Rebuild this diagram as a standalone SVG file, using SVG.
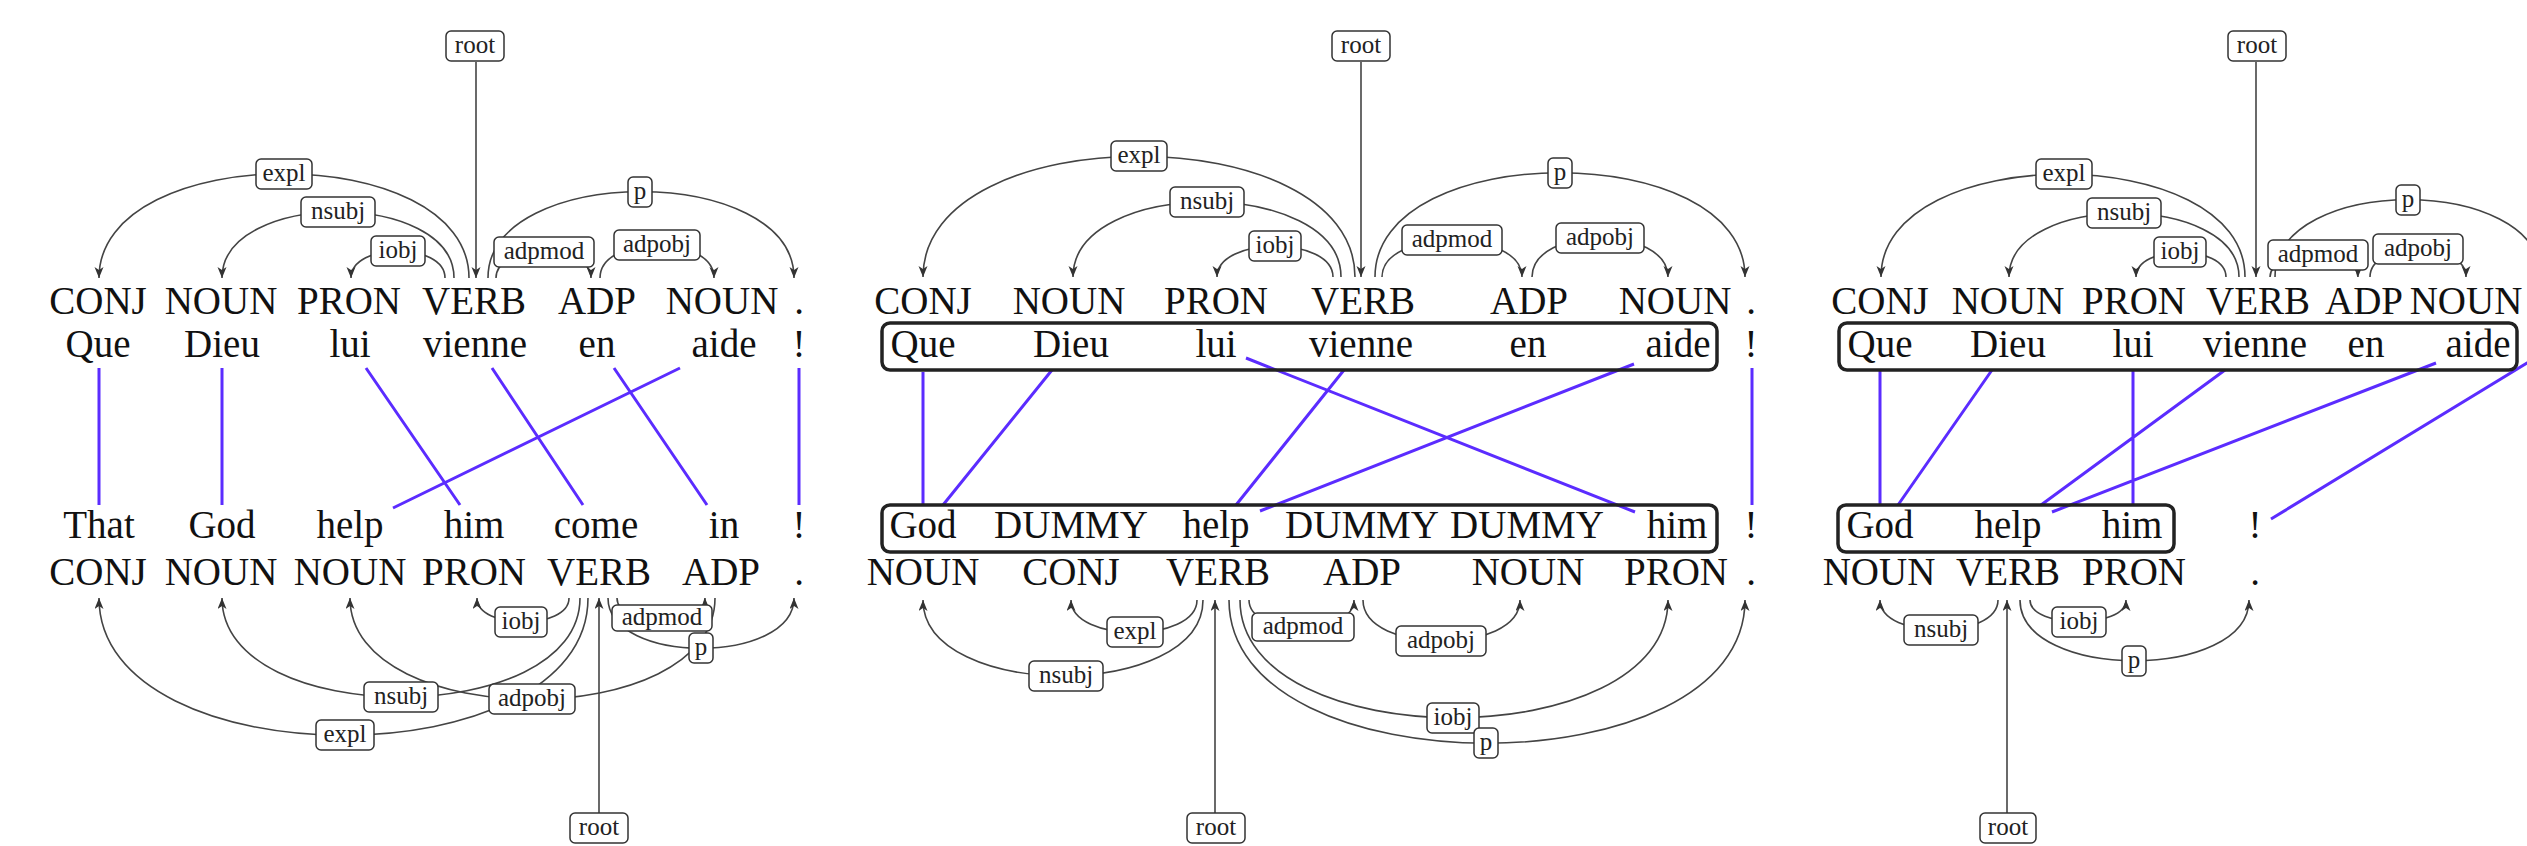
<svg xmlns="http://www.w3.org/2000/svg" width="2527" height="846" viewBox="0 0 2527 846">
<style>
.tok{font-family:"Liberation Serif","DejaVu Serif",serif;font-size:39px;text-anchor:middle;fill:#111}
.lbl rect{fill:#fff;stroke:#333;stroke-width:1.5}
.lbl text{font-family:"Liberation Serif","DejaVu Serif",serif;font-size:25px;text-anchor:middle;fill:#222}
.arc{fill:none;stroke:#444;stroke-width:1.6;marker-end:url(#ah)}
.al{stroke:#5b2cff;stroke-width:3;fill:none}
.sbox{fill:none;stroke:#222;stroke-width:3.5}
</style>
<defs>
<marker id="ah" markerUnits="userSpaceOnUse" markerWidth="12" markerHeight="10" refX="11" refY="4.5" orient="auto">
<path d="M0,0 L11,4.5 L0,9 L3,4.5 z" fill="#333"/>
</marker>
</defs>
<rect width="2527" height="846" fill="#fff"/>

<g id="connectors">
<!-- panel 1 top -->
<path class="arc" d="M469,278 C469,139 99,139 99,278"/>
<path class="arc" d="M454,278 C454,190 222,190 222,278"/>
<path class="arc" d="M445,278 C445,242 351,242 351,278"/>
<path class="arc" d="M496,278 C496,243 591,243 591,278"/>
<path class="arc" d="M600,278 C600,234 714,234 714,278"/>
<path class="arc" d="M488,278 C488,163 794,163 794,278"/>
<path class="arc" d="M476,62 L476,278"/>
<!-- panel 1 bottom -->
<path class="arc" d="M569,598 C569,630 477,630 477,598"/>
<path class="arc" d="M580,598 C580,730 222,730 222,598"/>
<path class="arc" d="M588,598 C588,781 99,781 99,598"/>
<path class="arc" d="M715,598 C715,733 350,733 350,598"/>
<path class="arc" d="M617,598 C617,628 705,628 705,598"/>
<path class="arc" d="M608,598 C608,665 794,665 794,598"/>
<path class="arc" d="M599,813 L599,598"/>
<!-- panel 2 top -->
<path class="arc" d="M1355,277 C1355,116 923,116 923,277"/>
<path class="arc" d="M1341,277 C1341,177 1073,177 1073,277"/>
<path class="arc" d="M1333,277 C1333,236 1217,236 1217,277"/>
<path class="arc" d="M1382,277 C1382,228 1522,228 1522,277"/>
<path class="arc" d="M1532,277 C1532,225 1668,225 1668,277"/>
<path class="arc" d="M1375,277 C1375,138 1745,138 1745,277"/>
<path class="arc" d="M1361,62 L1361,277"/>
<!-- panel 2 bottom -->
<path class="arc" d="M1197,600 C1197,643 1071,643 1071,600"/>
<path class="arc" d="M1203,600 C1203,701 923,701 923,600"/>
<path class="arc" d="M1249,600 C1249,637 1354,637 1354,600"/>
<path class="arc" d="M1363,600 C1363,655 1520,655 1520,600"/>
<path class="arc" d="M1240,600 C1240,757 1668,757 1668,600"/>
<path class="arc" d="M1229,600 C1229,791 1745,791 1745,600"/>
<path class="arc" d="M1215,813 L1215,600"/>
<!-- panel 3 top -->
<path class="arc" d="M2245,277 C2245,140 1881,140 1881,277"/>
<path class="arc" d="M2239,277 C2239,192 2009,192 2009,277"/>
<path class="arc" d="M2226,277 C2226,244 2136,244 2136,277"/>
<path class="arc" d="M2270,277 C2270,248 2358,248 2358,277"/>
<path class="arc" d="M2370,277 C2370,240 2466,240 2466,277"/>
<path class="arc" d="M2275,277 C2275,174 2541,174 2541,277"/>
<path class="arc" d="M2256,62 L2256,277"/>
<!-- panel 3 bottom -->
<path class="arc" d="M1998,600 C1998,640 1880,640 1880,600"/>
<path class="arc" d="M2030,600 C2030,629 2126,629 2126,600"/>
<path class="arc" d="M2020,600 C2020,681 2249,681 2249,600"/>
<path class="arc" d="M2007,813 L2007,600"/>
<!-- alignments -->
<path class="al" d="M99,368 L99,505 M222,368 L222,505 M366,368 L460,505 M492,368 L583,505 M614,368 L707,505 M680,368 L393,508 M799,368 L799,505"/>
<path class="al" d="M923,372 L923,505 M1052,370 L943,505 M1246,358 L1635,512 M1344,370 L1236,505 M1634,364 L1260,511 M1752,368 L1752,505"/>
<path class="al" d="M1880,370 L1880,505 M1992,370 L1898,505 M2133,370 L2133,505 M2225,370 L2041,505 M2436,363 L2052,512 M2540,355 L2271,519"/>
</g>

<g id="sentence-boxes">
<rect id="p2-fr-box" class="sbox" x="882" y="323" width="835" height="47" rx="8"/>
<rect id="p2-en-box" class="sbox" x="882" y="505" width="835" height="47" rx="8"/>
<rect id="p3-fr-box" class="sbox" x="1839" y="323" width="678" height="47" rx="8"/>
<rect id="p3-en-box" class="sbox" x="1838" y="505" width="336" height="47" rx="8"/>
</g>

<!-- panel 1 tokens -->
<g id="p1-fr-1" class="tok"><text x="98" y="314">CONJ</text><text x="98" y="357">Que</text></g>
<g id="p1-fr-2" class="tok"><text x="221" y="314">NOUN</text><text x="222" y="357">Dieu</text></g>
<g id="p1-fr-3" class="tok"><text x="349" y="314">PRON</text><text x="350" y="357">lui</text></g>
<g id="p1-fr-4" class="tok"><text x="474" y="314">VERB</text><text x="475" y="357">vienne</text></g>
<g id="p1-fr-5" class="tok"><text x="597" y="314">ADP</text><text x="597" y="357">en</text></g>
<g id="p1-fr-6" class="tok"><text x="722" y="314">NOUN</text><text x="724" y="357">aide</text></g>
<g id="p1-fr-7" class="tok"><text x="799" y="314">.</text><text x="799" y="357">!</text></g>
<g id="p1-en-1" class="tok"><text x="99" y="538">That</text><text x="98" y="585">CONJ</text></g>
<g id="p1-en-2" class="tok"><text x="222" y="538">God</text><text x="221" y="585">NOUN</text></g>
<g id="p1-en-3" class="tok"><text x="350" y="538">help</text><text x="350" y="585">NOUN</text></g>
<g id="p1-en-4" class="tok"><text x="474" y="538">him</text><text x="474" y="585">PRON</text></g>
<g id="p1-en-5" class="tok"><text x="596" y="538">come</text><text x="599" y="585">VERB</text></g>
<g id="p1-en-6" class="tok"><text x="724" y="538">in</text><text x="721" y="585">ADP</text></g>
<g id="p1-en-7" class="tok"><text x="799" y="538">!</text><text x="799" y="585">.</text></g>

<!-- panel 2 tokens -->
<g id="p2-fr-1" class="tok"><text x="923" y="314">CONJ</text><text x="923" y="357">Que</text></g>
<g id="p2-fr-2" class="tok"><text x="1069" y="314">NOUN</text><text x="1071" y="357">Dieu</text></g>
<g id="p2-fr-3" class="tok"><text x="1216" y="314">PRON</text><text x="1216" y="357">lui</text></g>
<g id="p2-fr-4" class="tok"><text x="1363" y="314">VERB</text><text x="1361" y="357">vienne</text></g>
<g id="p2-fr-5" class="tok"><text x="1529" y="314">ADP</text><text x="1528" y="357">en</text></g>
<g id="p2-fr-6" class="tok"><text x="1675" y="314">NOUN</text><text x="1678" y="357">aide</text></g>
<g id="p2-fr-7" class="tok"><text x="1751" y="314">.</text><text x="1751" y="357">!</text></g>
<g id="p2-en-1" class="tok"><text x="923" y="538">God</text><text x="923" y="585">NOUN</text></g>
<g id="p2-en-2" class="tok"><text x="1071" y="538">DUMMY</text><text x="1071" y="585">CONJ</text></g>
<g id="p2-en-3" class="tok"><text x="1216" y="538">help</text><text x="1218" y="585">VERB</text></g>
<g id="p2-en-4" class="tok"><text x="1362" y="538">DUMMY</text><text x="1362" y="585">ADP</text></g>
<g id="p2-en-5" class="tok"><text x="1527" y="538">DUMMY</text><text x="1528" y="585">NOUN</text></g>
<g id="p2-en-6" class="tok"><text x="1677" y="538">him</text><text x="1676" y="585">PRON</text></g>
<g id="p2-en-7" class="tok"><text x="1751" y="538">!</text><text x="1751" y="585">.</text></g>

<!-- panel 3 tokens -->
<g id="p3-fr-1" class="tok"><text x="1880" y="314">CONJ</text><text x="1880" y="357">Que</text></g>
<g id="p3-fr-2" class="tok"><text x="2008" y="314">NOUN</text><text x="2008" y="357">Dieu</text></g>
<g id="p3-fr-3" class="tok"><text x="2134" y="314">PRON</text><text x="2133" y="357">lui</text></g>
<g id="p3-fr-4" class="tok"><text x="2258" y="314">VERB</text><text x="2255" y="357">vienne</text></g>
<g id="p3-fr-5" class="tok"><text x="2364" y="314">ADP</text><text x="2366" y="357">en</text></g>
<g id="p3-fr-6" class="tok"><text x="2466" y="314">NOUN</text><text x="2478" y="357">aide</text></g>
<g id="p3-en-1" class="tok"><text x="1880" y="538">God</text><text x="1879" y="585">NOUN</text></g>
<g id="p3-en-2" class="tok"><text x="2008" y="538">help</text><text x="2008" y="585">VERB</text></g>
<g id="p3-en-3" class="tok"><text x="2132" y="538">him</text><text x="2134" y="585">PRON</text></g>
<g id="p3-en-4" class="tok"><text x="2255" y="538">!</text><text x="2255" y="585">.</text></g>

<!-- edge labels panel 1 -->
<g id="p1t-root" class="lbl" transform="translate(475,46)"><rect x="-29" y="-15" width="58" height="30" rx="5"/><text y="7">root</text></g>
<g id="p1t-expl" class="lbl" transform="translate(284,174)"><rect x="-28" y="-15" width="56" height="30" rx="5"/><text y="7">expl</text></g>
<g id="p1t-nsubj" class="lbl" transform="translate(338,212)"><rect x="-37" y="-15" width="74" height="30" rx="5"/><text y="7">nsubj</text></g>
<g id="p1t-iobj" class="lbl" transform="translate(398,251)"><rect x="-27" y="-15" width="54" height="30" rx="5"/><text y="7">iobj</text></g>
<g id="p1t-adpmod" class="lbl" transform="translate(544,252)"><rect x="-50" y="-15" width="100" height="30" rx="5"/><text y="7">adpmod</text></g>
<g id="p1t-adpobj" class="lbl" transform="translate(657,245)"><rect x="-43" y="-15" width="86" height="30" rx="5"/><text y="7">adpobj</text></g>
<g id="p1t-p" class="lbl" transform="translate(640,192)"><rect x="-12" y="-15" width="24" height="30" rx="5"/><text y="7">p</text></g>
<g id="p1b-root" class="lbl" transform="translate(599,828)"><rect x="-29" y="-15" width="58" height="30" rx="5"/><text y="7">root</text></g>
<g id="p1b-iobj" class="lbl" transform="translate(521,622)"><rect x="-26" y="-15" width="52" height="30" rx="5"/><text y="7">iobj</text></g>
<g id="p1b-nsubj" class="lbl" transform="translate(401,697)"><rect x="-37" y="-15" width="74" height="30" rx="5"/><text y="7">nsubj</text></g>
<g id="p1b-adpobj" class="lbl" transform="translate(532,699)"><rect x="-43" y="-15" width="86" height="30" rx="5"/><text y="7">adpobj</text></g>
<g id="p1b-expl" class="lbl" transform="translate(345,735)"><rect x="-29" y="-15" width="58" height="30" rx="5"/><text y="7">expl</text></g>
<g id="p1b-adpmod" class="lbl" transform="translate(662,618)"><rect x="-50" y="-13" width="100" height="26" rx="5"/><text y="7">adpmod</text></g>
<g id="p1b-p" class="lbl" transform="translate(701,648)"><rect x="-12" y="-15" width="24" height="30" rx="5"/><text y="7">p</text></g>

<!-- edge labels panel 2 -->
<g id="p2t-root" class="lbl" transform="translate(1361,46)"><rect x="-29" y="-15" width="58" height="30" rx="5"/><text y="7">root</text></g>
<g id="p2t-expl" class="lbl" transform="translate(1139,156)"><rect x="-28" y="-15" width="56" height="30" rx="5"/><text y="7">expl</text></g>
<g id="p2t-nsubj" class="lbl" transform="translate(1207,202)"><rect x="-37" y="-15" width="74" height="30" rx="5"/><text y="7">nsubj</text></g>
<g id="p2t-iobj" class="lbl" transform="translate(1275,246)"><rect x="-26" y="-15" width="52" height="30" rx="5"/><text y="7">iobj</text></g>
<g id="p2t-adpmod" class="lbl" transform="translate(1452,240)"><rect x="-50" y="-15" width="100" height="30" rx="5"/><text y="7">adpmod</text></g>
<g id="p2t-adpobj" class="lbl" transform="translate(1600,238)"><rect x="-44" y="-15" width="88" height="30" rx="5"/><text y="7">adpobj</text></g>
<g id="p2t-p" class="lbl" transform="translate(1560,173)"><rect x="-12" y="-15" width="24" height="30" rx="5"/><text y="7">p</text></g>
<g id="p2b-root" class="lbl" transform="translate(1216,828)"><rect x="-29" y="-15" width="58" height="30" rx="5"/><text y="7">root</text></g>
<g id="p2b-expl" class="lbl" transform="translate(1135,632)"><rect x="-28" y="-15" width="56" height="30" rx="5"/><text y="7">expl</text></g>
<g id="p2b-nsubj" class="lbl" transform="translate(1066,676)"><rect x="-37" y="-15" width="74" height="30" rx="5"/><text y="7">nsubj</text></g>
<g id="p2b-adpmod" class="lbl" transform="translate(1303,627)"><rect x="-51" y="-14" width="102" height="28" rx="5"/><text y="7">adpmod</text></g>
<g id="p2b-adpobj" class="lbl" transform="translate(1441,641)"><rect x="-45" y="-15" width="90" height="30" rx="5"/><text y="7">adpobj</text></g>
<g id="p2b-iobj" class="lbl" transform="translate(1453,718)"><rect x="-26" y="-15" width="52" height="30" rx="5"/><text y="7">iobj</text></g>
<g id="p2b-p" class="lbl" transform="translate(1486,743)"><rect x="-12" y="-15" width="24" height="30" rx="5"/><text y="7">p</text></g>

<!-- edge labels panel 3 -->
<g id="p3t-root" class="lbl" transform="translate(2257,46)"><rect x="-29" y="-15" width="58" height="30" rx="5"/><text y="7">root</text></g>
<g id="p3t-expl" class="lbl" transform="translate(2064,174)"><rect x="-28" y="-15" width="56" height="30" rx="5"/><text y="7">expl</text></g>
<g id="p3t-nsubj" class="lbl" transform="translate(2124,213)"><rect x="-37" y="-15" width="74" height="30" rx="5"/><text y="7">nsubj</text></g>
<g id="p3t-iobj" class="lbl" transform="translate(2180,252)"><rect x="-26" y="-15" width="52" height="30" rx="5"/><text y="7">iobj</text></g>
<g id="p3t-adpmod" class="lbl" transform="translate(2318,255)"><rect x="-50" y="-15" width="100" height="30" rx="5"/><text y="7">adpmod</text></g>
<g id="p3t-adpobj" class="lbl" transform="translate(2418,249)"><rect x="-45" y="-15" width="90" height="30" rx="5"/><text y="7">adpobj</text></g>
<g id="p3t-p" class="lbl" transform="translate(2408,200)"><rect x="-12" y="-15" width="24" height="30" rx="5"/><text y="7">p</text></g>
<g id="p3b-root" class="lbl" transform="translate(2008,828)"><rect x="-28" y="-15" width="56" height="30" rx="5"/><text y="7">root</text></g>
<g id="p3b-nsubj" class="lbl" transform="translate(1941,630)"><rect x="-37" y="-15" width="74" height="30" rx="5"/><text y="7">nsubj</text></g>
<g id="p3b-iobj" class="lbl" transform="translate(2079,622)"><rect x="-27" y="-15" width="54" height="30" rx="5"/><text y="7">iobj</text></g>
<g id="p3b-p" class="lbl" transform="translate(2134,661)"><rect x="-12" y="-15" width="24" height="30" rx="5"/><text y="7">p</text></g>
</svg>
